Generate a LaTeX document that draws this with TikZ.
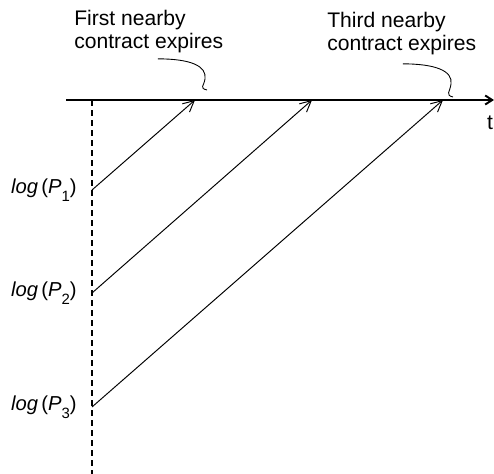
\documentclass[tikz,border=0pt]{standalone}
\usepackage{fontspec}
\setmainfont{Liberation Sans}
\usetikzlibrary{arrows.meta,positioning,calc}
\newcommand{\lowsub}[1]{\raisebox{-0.75ex}{\fontsize{8.5}{9}\selectfont #1}}

\begin{document}
\begin{tikzpicture}[x=0.2mm, y=-0.2mm, font=\fontsize{12}{12.8}\selectfont,
    note/.style={align=left, inner sep=0pt, anchor=north west},
    price/.style={inner sep=0pt, anchor=east, font=\fontsize{11.5}{13}\selectfont},
    roll/.style={-{Straight Barb[length=2.2mm,width=2.2mm]}, line width=0.55pt},
    pointer/.style={line width=0.5pt}]
  \useasboundingbox (0,0) rectangle (494,474);
  % time axis
  \coordinate (t0) at (66,100);
  \coordinate (t1) at (494,100);
  \draw[-{Straight Barb[length=1.4mm,width=1.8mm]}, line width=1.1pt] (t0) -- (t1);
  \node[inner sep=0pt] (t) at (490,123) {t};
  % dashed price line
  \coordinate (d0) at (92,100);
  \coordinate (d1) at (92,474);
  \draw[line width=1.1pt, dash pattern=on 1.2mm off 0.8mm] (d0) -- (d1);
  \coordinate (p1) at (92,190);
  \coordinate (p2) at (92,293);
  \coordinate (p3) at (92,407);
  \coordinate (e1) at (195,100);
  \coordinate (e2) at (312,100);
  \coordinate (e3) at (443,100);
  \node[price, left=3mm of p1] (lp1) {\textit{log}\,(\textit{P}\lowsub{1})};
  \node[price, left=3mm of p2] (lp2) {\textit{log}\,(\textit{P}\lowsub{2})};
  \node[price, left=3mm of p3] (lp3) {\textit{log}\,(\textit{P}\lowsub{3})};
  \draw[roll] (p1) -- (e1);
  \draw[roll] (p2) -- (e2);
  \draw[roll] (p3) -- (e3);
  % expiry notes
  \node[note] (first) at (74,10) {First nearby\\contract expires};
  \node[note] (third) at (327,12) {Third nearby\\contract expires};
  \coordinate (x1) at (207,90);
  \coordinate (x3) at (453,97);
  \draw[pointer] ($(first.south)+(9,6)$) .. controls +(33,0) and +(2,-13) .. (205,79)
    .. controls (204,86) and (199,88) .. (x1);
  \draw[pointer] ($(third.south)+(1,9)$) .. controls +(33,0) and +(2,-13) .. (451,84)
    .. controls (450,92) and (445,95) .. (x3);
\end{tikzpicture}
\end{document}
